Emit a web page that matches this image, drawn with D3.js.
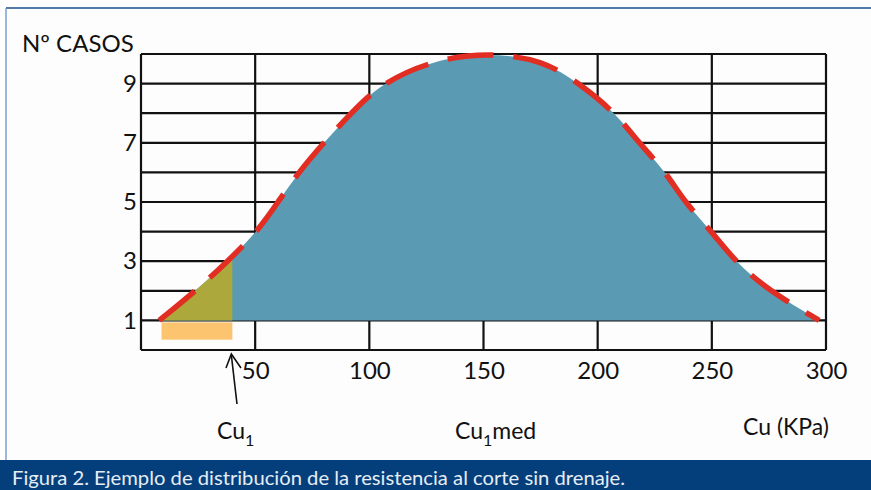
<!DOCTYPE html>
<meta charset="utf-8">
<style>
  body { margin: 0; background: #fff; }
  text { font-family: Lato, "Open Sans", sans-serif; }
</style>
<body>
<div id="chart"></div>
<script src="https://cdn.jsdelivr.net/npm/d3@7"></script>
<script>

// values
var cu    = [8, 24, 38, 51, 60, 69, 80, 92, 105, 128, 152, 176, 192, 208, 218, 230, 238, 250, 260, 275, 297];
var casos = [1, 2, 3, 4, 5, 6, 7, 8, 9, 9.8, 10.05, 9.8, 9, 8, 7, 6, 5, 4, 3, 2, 1];
var xTicks = [50, 100, 150, 200, 250, 300];
var yTicks = [1, 3, 5, 7, 9];
var cu1 = 40;          // Cu1 limit
var cu1Start = 9;      // left edge of the orange band
var cu1Low = 0.35;     // bottom of the orange band

var width = 871,
    height = 490;

var x = d3.scaleLinear().domain([0, 300]).range([141, 826]);
var y = d3.scaleLinear().domain([0, 10]).range([350, 54]);

var svg = d3.select("#chart").append("svg")
    .attr("width", width)
    .attr("height", height);

// frame
svg.append("rect").attr("x", 6).attr("y", 8).attr("width", width - 6).attr("height", 452).attr("fill", "#fdfdfd");
svg.append("line").attr("x1", 6).attr("x2", width).attr("y1", 8).attr("y2", 8)
    .attr("stroke", "#1b4e8a").attr("stroke-width", 1.5);
svg.append("line").attr("x1", 6).attr("x2", 6).attr("y1", 8).attr("y2", 460)
    .attr("stroke", "#7b9fd0").attr("stroke-width", 1.5);

// grid
var grid = svg.append("g").attr("stroke", "#111").attr("stroke-width", 2.2);
grid.selectAll(".h").data(d3.range(0, 11)).enter().append("line")
    .attr("x1", x(0)).attr("x2", x(300))
    .attr("y1", function(d) { return y(d); }).attr("y2", function(d) { return y(d); });
grid.selectAll(".v").data(d3.range(0, 301, 50)).enter().append("line")
    .attr("y1", y(0)).attr("y2", y(10))
    .attr("x1", function(d) { return x(d); }).attr("x2", function(d) { return x(d); });

var pts = cu.map(function(d, i) { return [d, casos[i]]; });

var area = d3.area()
    .x(function(d) { return x(d[0]); })
    .y0(y(1))
    .y1(function(d) { return y(d[1]); })
    .curve(d3.curveBasis);

var line = d3.line()
    .x(function(d) { return x(d[0]); })
    .y(function(d) { return y(d[1]); })
    .curve(d3.curveBasis);

svg.append("path").datum(pts).attr("d", area).attr("fill", "#5a9ab3");

// olive part left of Cu1
svg.append("clipPath").attr("id", "cl").append("rect")
    .attr("x", 0).attr("y", 0).attr("width", x(cu1)).attr("height", height);
svg.append("path").datum(pts).attr("d", area).attr("fill", "#aca83c").attr("clip-path", "url(#cl)");

svg.append("rect")
    .attr("x", x(cu1Start)).attr("y", y(1) + 2)
    .attr("width", x(cu1) - x(cu1Start)).attr("height", y(cu1Low) - y(1) - 2)
    .attr("fill", "#fcc46e");

svg.append("path").datum(pts).attr("d", line)
    .attr("fill", "none").attr("stroke", "#e22d23").attr("stroke-width", 5.5)
    .attr("stroke-dasharray", "46,20");

// axes labels
svg.append("g").attr("transform", "translate(" + (x(0) - 4) + ",0)")
    .call(d3.axisLeft(y).tickValues(yTicks).tickSize(0).tickPadding(0))
    .call(function(g) { g.select(".domain").remove(); })
    .selectAll("text").attr("font-size", 24).attr("fill", "#111").attr("font-family", "Lato");

svg.append("g").attr("transform", "translate(0," + (y(0) + 10) + ")")
    .call(d3.axisBottom(x).tickValues(xTicks).tickSize(0).tickPadding(2))
    .call(function(g) { g.select(".domain").remove(); })
    .selectAll("text").attr("font-size", 24).attr("fill", "#111").attr("font-family", "Lato");

svg.append("text").attr("x", 22).attr("y", 52).attr("font-size", 24).attr("fill", "#111")
    .text("Nº CASOS");

// Cu1 arrow
svg.append("line").attr("x1", 237).attr("y1", 404).attr("x2", x(cu1) - 1).attr("y2", 355)
    .attr("stroke", "#111").attr("stroke-width", 1.6);
svg.append("path").attr("d", "M226,368 L" + (x(cu1) - 1) + ",354 L241,368")
    .attr("fill", "none").attr("stroke", "#111").attr("stroke-width", 1.6);

function subLabel(tx, ty, pre, sub, post) {
  var t = svg.append("text").attr("x", tx).attr("y", ty).attr("font-size", 23).attr("fill", "#111");
  t.append("tspan").text(pre);
  t.append("tspan").attr("font-size", 16).attr("dy", 7).text(sub);
  if (post) t.append("tspan").attr("dy", -7).text(post);
}
subLabel(217, 439, "Cu", "1");
subLabel(455, 439, "Cu", "1", "med");

svg.append("text").attr("x", 743).attr("y", 435).attr("font-size", 23).attr("fill", "#111")
    .text("Cu (KPa)");

// caption bar
svg.append("rect").attr("x", 0).attr("y", 460).attr("width", width).attr("height", 30).attr("fill", "#053f7b");
svg.append("text").attr("x", 12).attr("y", 485).attr("font-size", 20).attr("fill", "#e6edf5")
    .attr("textLength", 613).attr("lengthAdjust", "spacingAndGlyphs")
    .text("Figura 2. Ejemplo de distribución de la resistencia al corte sin drenaje.");

</script>
</body>
